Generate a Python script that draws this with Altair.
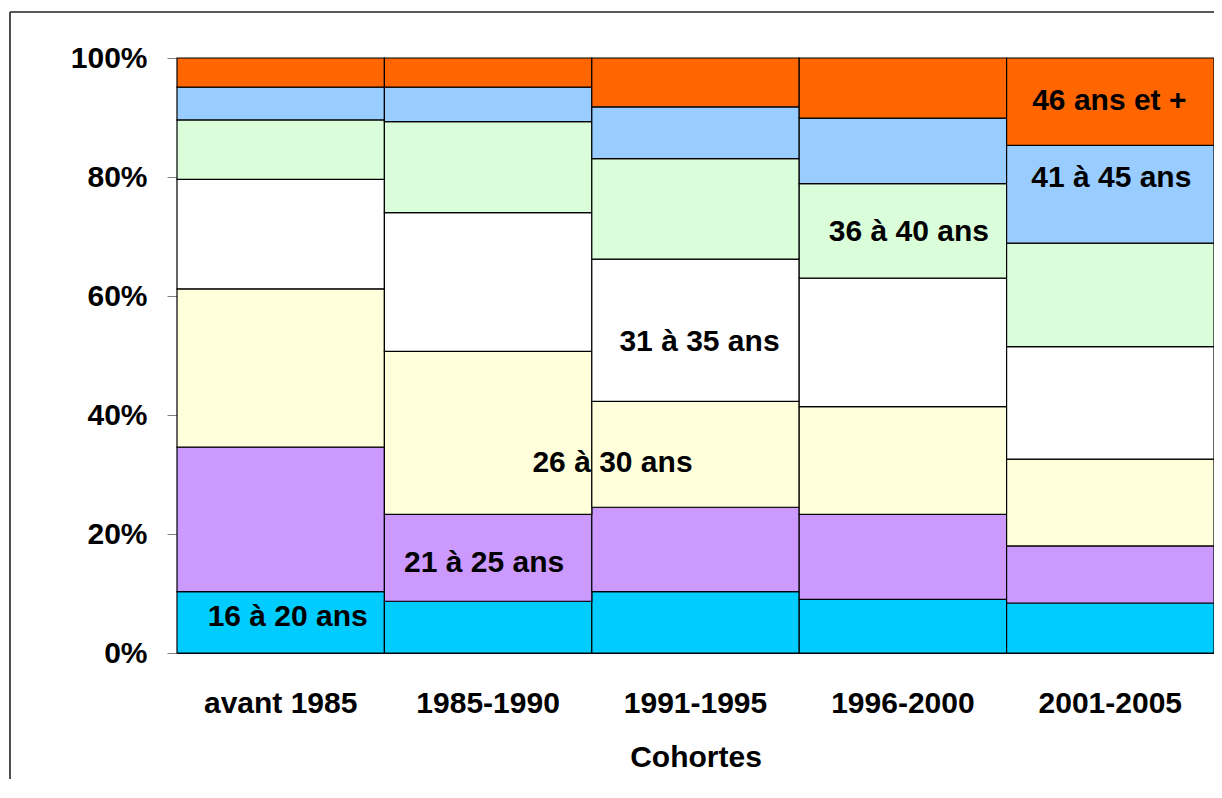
import altair as alt
import pandas as pd

cohorts = ["avant 1985", "1985-1990", "1991-1995", "1996-2000", "2001-2005"]
groups = ["16 à 20 ans", "21 à 25 ans", "26 à 30 ans", "31 à 35 ans",
          "36 à 40 ans", "41 à 45 ans", "46 ans et +"]
colors = ["#00CCFF", "#CC99FF", "#FFFFDB", "#FFFFFF", "#DAFDDA", "#99CCFF", "#FF6600"]

share_16_20 = [10.3, 8.7, 10.3, 9.0, 8.4]
share_21_25 = [24.3, 14.6, 14.2, 14.3, 9.6]
share_26_30 = [26.6, 27.4, 17.8, 18.1, 14.6]
share_31_35 = [18.4, 23.3, 23.9, 21.6, 18.9]
share_36_40 = [10.0, 15.3, 16.9, 15.9, 17.4]
share_41_45 = [5.5, 5.8, 8.7, 11.0, 16.4]
share_46_plus = [4.9, 4.9, 8.2, 10.1, 14.7]
series = [share_16_20, share_21_25, share_26_30, share_31_35,
          share_36_40, share_41_45, share_46_plus]

y_ticks = [0, 20, 40, 60, 80, 100]

# in-bar labels: which cohort column and at what height (%) they sit
label_cohort = ["avant 1985", "1985-1990", "1991-1995", "1991-1995",
                "1996-2000", "2001-2005", "2001-2005"]
label_y = [6.1, 15.1, 31.9, 52.3, 70.7, 79.8, 92.7]
label_dx = [7, -4, -83, 4, 6, 1, -1]

rows = []
for gi, (g, vals) in enumerate(zip(groups, series)):
    for c, v in zip(cohorts, vals):
        rows.append({"cohort": c, "group": g, "rank": gi, "share": v})
df = pd.DataFrame(rows)

FONT = "Liberation Sans"
FS = 30

x_enc = alt.X("cohort:N", sort=cohorts,
              scale=alt.Scale(paddingInner=0, paddingOuter=0),
              axis=alt.Axis(title="Cohortes", labelAngle=0, ticks=False,
                            domain=True, domainColor="#000000",
                            labelPadding=35, titlePadding=24,
                            labelFont=FONT, labelFontSize=FS, labelFontWeight="bold",
                            labelColor="#000000",
                            titleFont=FONT, titleFontSize=FS, titleFontWeight="bold",
                            titleColor="#000000"))

bars = alt.Chart(df).mark_bar(stroke="#000000", strokeWidth=1.2).encode(
    x=x_enc,
    y=alt.Y("share:Q", stack="zero",
            scale=alt.Scale(domain=[0, 100], nice=False, zero=True),
            axis=alt.Axis(values=y_ticks, labelExpr="datum.value + '%'",
                          title=None, grid=False, tickSize=10,
                          tickColor="#808080", domainColor="#000000",
                          labelPadding=20, labelFont=FONT, labelFontSize=FS,
                          labelFontWeight="bold", labelColor="#000000")),
    color=alt.Color("group:N", scale=alt.Scale(domain=groups, range=colors),
                    legend=None),
    order=alt.Order("rank:Q", sort="ascending"),
)

layers = [bars]
for g, c, yv, dx in zip(groups, label_cohort, label_y, label_dx):
    ldf = pd.DataFrame({"cohort": [c], "pos": [yv], "label": [g]})
    layers.append(
        alt.Chart(ldf).mark_text(font=FONT, fontSize=FS, fontWeight="bold",
                                 color="#000000", align="center",
                                 baseline="middle", dx=dx).encode(
            x=alt.X("cohort:N", sort=cohorts),
            y=alt.Y("pos:Q", stack=None),
            text="label:N",
        )
    )

one = pd.DataFrame({"k": [0]})
frame_left = alt.Chart(one).mark_rule(color="#222222", strokeWidth=1.6).encode(
    x=alt.value(-167), y=alt.value(-46), y2=alt.value(900))
frame_top = alt.Chart(one).mark_rule(color="#222222", strokeWidth=1.6).encode(
    x=alt.value(-167), x2=alt.value(1200), y=alt.value(-46))
layers += [frame_left, frame_top]

chart = alt.layer(*layers).properties(
    width=1037, height=595,
    autosize=alt.AutoSizeParams(type="none"),
    padding={"left": 169, "top": 50, "right": 0, "bottom": 126},
    background="#FFFFFF",
).configure_view(stroke=None)

chart.save("out.html", embed_options={"renderer": "svg", "actions": False})
